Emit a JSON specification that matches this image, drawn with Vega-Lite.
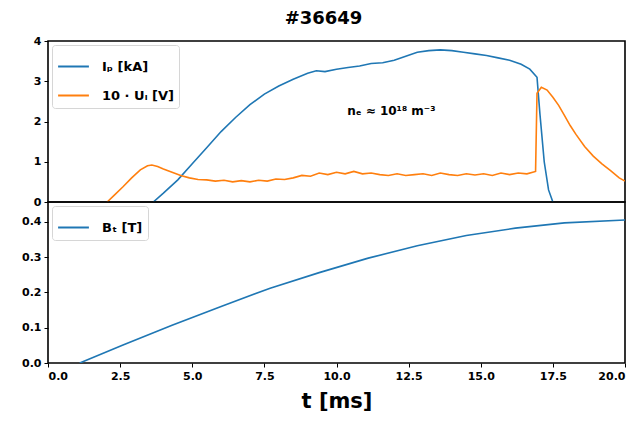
{
  "$schema": "https://vega.github.io/schema/vega-lite/v6.json",
  "padding": {"left": 20, "top": 10, "right": 14, "bottom": 4},
  "background": "white",
  "config": {
    "font": "DejaVu Sans",
    "view": {"stroke": "black", "strokeWidth": 1.6},
    "axis": {
      "grid": false,
      "domain": false,
      "tickColor": "black",
      "tickSize": 4,
      "tickWidth": 1,
      "labelColor": "black",
      "labelFont": "DejaVu Sans",
      "labelFontWeight": "bold",
      "labelFontSize": 11,
      "labelPadding": 3,
      "labelOverlap": false
    },
    "legend": {
      "orient": "top-left",
      "offset": 4,
      "title": null,
      "symbolType": "stroke",
      "symbolSize": 950,
      "symbolStrokeWidth": 2,
      "labelFont": "DejaVu Sans",
      "labelFontSize": 13,
      "labelFontWeight": "bold",
      "labelColor": "black",
      "labelOffset": 12,
      "rowPadding": 5,
      "padding": 5,
      "strokeColor": "#d6d6d6",
      "fillColor": "white",
      "cornerRadius": 3
    }
  },
  "title": {
    "text": "#36649",
    "anchor": "middle",
    "fontSize": 18,
    "fontWeight": "bold",
    "font": "DejaVu Sans",
    "color": "black",
    "offset": 6
  },
  "spacing": 0,
  "bounds": "flush",
  "datasets": {
    "discharge": [
      {"t": 3.65, "v": 0, "s": "Iₚ [kA]"},
      {"t": 4.0, "v": 0.22, "s": "Iₚ [kA]"},
      {"t": 4.5, "v": 0.55, "s": "Iₚ [kA]"},
      {"t": 5.0, "v": 0.95, "s": "Iₚ [kA]"},
      {"t": 5.5, "v": 1.35, "s": "Iₚ [kA]"},
      {"t": 6.0, "v": 1.75, "s": "Iₚ [kA]"},
      {"t": 6.5, "v": 2.1, "s": "Iₚ [kA]"},
      {"t": 7.0, "v": 2.42, "s": "Iₚ [kA]"},
      {"t": 7.5, "v": 2.68, "s": "Iₚ [kA]"},
      {"t": 8.0, "v": 2.88, "s": "Iₚ [kA]"},
      {"t": 8.5, "v": 3.05, "s": "Iₚ [kA]"},
      {"t": 9.0, "v": 3.2, "s": "Iₚ [kA]"},
      {"t": 9.3, "v": 3.26, "s": "Iₚ [kA]"},
      {"t": 9.6, "v": 3.24, "s": "Iₚ [kA]"},
      {"t": 10.0, "v": 3.3, "s": "Iₚ [kA]"},
      {"t": 10.4, "v": 3.34, "s": "Iₚ [kA]"},
      {"t": 10.8, "v": 3.38, "s": "Iₚ [kA]"},
      {"t": 11.2, "v": 3.44, "s": "Iₚ [kA]"},
      {"t": 11.6, "v": 3.46, "s": "Iₚ [kA]"},
      {"t": 12.0, "v": 3.52, "s": "Iₚ [kA]"},
      {"t": 12.4, "v": 3.62, "s": "Iₚ [kA]"},
      {"t": 12.8, "v": 3.72, "s": "Iₚ [kA]"},
      {"t": 13.2, "v": 3.76, "s": "Iₚ [kA]"},
      {"t": 13.6, "v": 3.78, "s": "Iₚ [kA]"},
      {"t": 14.0, "v": 3.76, "s": "Iₚ [kA]"},
      {"t": 14.4, "v": 3.72, "s": "Iₚ [kA]"},
      {"t": 14.8, "v": 3.68, "s": "Iₚ [kA]"},
      {"t": 15.2, "v": 3.64, "s": "Iₚ [kA]"},
      {"t": 15.6, "v": 3.58, "s": "Iₚ [kA]"},
      {"t": 16.0, "v": 3.52, "s": "Iₚ [kA]"},
      {"t": 16.4, "v": 3.42, "s": "Iₚ [kA]"},
      {"t": 16.7, "v": 3.3, "s": "Iₚ [kA]"},
      {"t": 16.95, "v": 3.1, "s": "Iₚ [kA]"},
      {"t": 17.05, "v": 2.2, "s": "Iₚ [kA]"},
      {"t": 17.2, "v": 1.0, "s": "Iₚ [kA]"},
      {"t": 17.35, "v": 0.3, "s": "Iₚ [kA]"},
      {"t": 17.5, "v": 0, "s": "Iₚ [kA]"},
      {"t": 2.05, "v": 0, "s": "10 · Uₗ [V]"},
      {"t": 2.3, "v": 0.17, "s": "10 · Uₗ [V]"},
      {"t": 2.6, "v": 0.38, "s": "10 · Uₗ [V]"},
      {"t": 2.9, "v": 0.6, "s": "10 · Uₗ [V]"},
      {"t": 3.2, "v": 0.8, "s": "10 · Uₗ [V]"},
      {"t": 3.45, "v": 0.9, "s": "10 · Uₗ [V]"},
      {"t": 3.6, "v": 0.92, "s": "10 · Uₗ [V]"},
      {"t": 3.8, "v": 0.88, "s": "10 · Uₗ [V]"},
      {"t": 4.0, "v": 0.82, "s": "10 · Uₗ [V]"},
      {"t": 4.3, "v": 0.74, "s": "10 · Uₗ [V]"},
      {"t": 4.6, "v": 0.66, "s": "10 · Uₗ [V]"},
      {"t": 4.9, "v": 0.6, "s": "10 · Uₗ [V]"},
      {"t": 5.2, "v": 0.56, "s": "10 · Uₗ [V]"},
      {"t": 5.5, "v": 0.55, "s": "10 · Uₗ [V]"},
      {"t": 5.8, "v": 0.52, "s": "10 · Uₗ [V]"},
      {"t": 6.1, "v": 0.54, "s": "10 · Uₗ [V]"},
      {"t": 6.4, "v": 0.5, "s": "10 · Uₗ [V]"},
      {"t": 6.7, "v": 0.53, "s": "10 · Uₗ [V]"},
      {"t": 7.0, "v": 0.5, "s": "10 · Uₗ [V]"},
      {"t": 7.3, "v": 0.54, "s": "10 · Uₗ [V]"},
      {"t": 7.6, "v": 0.52, "s": "10 · Uₗ [V]"},
      {"t": 7.9, "v": 0.57, "s": "10 · Uₗ [V]"},
      {"t": 8.2, "v": 0.56, "s": "10 · Uₗ [V]"},
      {"t": 8.5, "v": 0.6, "s": "10 · Uₗ [V]"},
      {"t": 8.8, "v": 0.66, "s": "10 · Uₗ [V]"},
      {"t": 9.1, "v": 0.64, "s": "10 · Uₗ [V]"},
      {"t": 9.4, "v": 0.72, "s": "10 · Uₗ [V]"},
      {"t": 9.7, "v": 0.68, "s": "10 · Uₗ [V]"},
      {"t": 10.0, "v": 0.74, "s": "10 · Uₗ [V]"},
      {"t": 10.3, "v": 0.7, "s": "10 · Uₗ [V]"},
      {"t": 10.6, "v": 0.76, "s": "10 · Uₗ [V]"},
      {"t": 10.9, "v": 0.7, "s": "10 · Uₗ [V]"},
      {"t": 11.2, "v": 0.72, "s": "10 · Uₗ [V]"},
      {"t": 11.5, "v": 0.68, "s": "10 · Uₗ [V]"},
      {"t": 11.8, "v": 0.66, "s": "10 · Uₗ [V]"},
      {"t": 12.1, "v": 0.7, "s": "10 · Uₗ [V]"},
      {"t": 12.4, "v": 0.66, "s": "10 · Uₗ [V]"},
      {"t": 12.7, "v": 0.68, "s": "10 · Uₗ [V]"},
      {"t": 13.0, "v": 0.7, "s": "10 · Uₗ [V]"},
      {"t": 13.3, "v": 0.66, "s": "10 · Uₗ [V]"},
      {"t": 13.6, "v": 0.72, "s": "10 · Uₗ [V]"},
      {"t": 13.9, "v": 0.68, "s": "10 · Uₗ [V]"},
      {"t": 14.2, "v": 0.66, "s": "10 · Uₗ [V]"},
      {"t": 14.5, "v": 0.7, "s": "10 · Uₗ [V]"},
      {"t": 14.8, "v": 0.67, "s": "10 · Uₗ [V]"},
      {"t": 15.1, "v": 0.7, "s": "10 · Uₗ [V]"},
      {"t": 15.4, "v": 0.66, "s": "10 · Uₗ [V]"},
      {"t": 15.7, "v": 0.72, "s": "10 · Uₗ [V]"},
      {"t": 16.0, "v": 0.68, "s": "10 · Uₗ [V]"},
      {"t": 16.3, "v": 0.72, "s": "10 · Uₗ [V]"},
      {"t": 16.6, "v": 0.7, "s": "10 · Uₗ [V]"},
      {"t": 16.9, "v": 0.76, "s": "10 · Uₗ [V]"},
      {"t": 16.95, "v": 2.7, "s": "10 · Uₗ [V]"},
      {"t": 17.1, "v": 2.85, "s": "10 · Uₗ [V]"},
      {"t": 17.3, "v": 2.78, "s": "10 · Uₗ [V]"},
      {"t": 17.5, "v": 2.6, "s": "10 · Uₗ [V]"},
      {"t": 17.7, "v": 2.4, "s": "10 · Uₗ [V]"},
      {"t": 17.9, "v": 2.15, "s": "10 · Uₗ [V]"},
      {"t": 18.1, "v": 1.9, "s": "10 · Uₗ [V]"},
      {"t": 18.3, "v": 1.68, "s": "10 · Uₗ [V]"},
      {"t": 18.6, "v": 1.38, "s": "10 · Uₗ [V]"},
      {"t": 18.9, "v": 1.14, "s": "10 · Uₗ [V]"},
      {"t": 19.2, "v": 0.95, "s": "10 · Uₗ [V]"},
      {"t": 19.5, "v": 0.78, "s": "10 · Uₗ [V]"},
      {"t": 19.8, "v": 0.6, "s": "10 · Uₗ [V]"},
      {"t": 20.0, "v": 0.52, "s": "10 · Uₗ [V]"}
    ],
    "note": [
      {"t": 11.9, "v": 2.25, "label": "nₑ ≈ 10¹⁸ m⁻³"}
    ],
    "field": [
      {"t": 1.1, "b": 0, "s": "Bₜ [T]"},
      {"t": 2.6, "b": 0.051, "s": "Bₜ [T]"},
      {"t": 4.3, "b": 0.107, "s": "Bₜ [T]"},
      {"t": 6.0, "b": 0.16, "s": "Bₜ [T]"},
      {"t": 7.7, "b": 0.212, "s": "Bₜ [T]"},
      {"t": 9.4, "b": 0.256, "s": "Bₜ [T]"},
      {"t": 11.1, "b": 0.297, "s": "Bₜ [T]"},
      {"t": 12.8, "b": 0.332, "s": "Bₜ [T]"},
      {"t": 14.5, "b": 0.361, "s": "Bₜ [T]"},
      {"t": 16.2, "b": 0.382, "s": "Bₜ [T]"},
      {"t": 17.9, "b": 0.397, "s": "Bₜ [T]"},
      {"t": 20.0, "b": 0.405, "s": "Bₜ [T]"}
    ]
  },
  "vconcat": [
    {
      "width": 577,
      "height": 161,
      "encoding": {
        "x": {"field": "t", "type": "quantitative", "scale": {"domain": [0, 20], "nice": false}, "axis": null},
        "y": {"field": "v", "type": "quantitative", "scale": {"domain": [0, 4], "nice": false},
              "axis": {"values": [0, 1, 2, 3, 4], "format": "d", "title": null}}
      },
      "layer": [
        {
          "data": {"name": "discharge"},
          "mark": {"type": "line", "strokeWidth": 1.6, "clip": true},
          "encoding": {
            "color": {"field": "s", "type": "nominal",
                      "scale": {"domain": ["Iₚ [kA]", "10 · Uₗ [V]"], "range": ["#1f77b4", "#ff7f0e"]}},
            "order": {"field": "t", "type": "quantitative"}
          }
        },
        {
          "data": {"name": "note"},
          "mark": {"type": "text", "fontWeight": "bold", "fontSize": 12, "color": "black", "font": "DejaVu Sans"},
          "encoding": {
            "text": {"field": "label"}
          }
        }
      ]
    },
    {
      "width": 577,
      "height": 161,
      "data": {"name": "field"},
      "mark": {"type": "line", "strokeWidth": 1.6, "clip": true},
      "encoding": {
        "x": {"field": "t", "type": "quantitative", "scale": {"domain": [0, 20], "nice": false},
              "axis": {"values": [0, 2.5, 5, 7.5, 10, 12.5, 15, 17.5, 20], "format": ".1f",
                       "title": "t [ms]", "titleFontSize": 21, "titleFontWeight": "bold",
                       "titleColor": "black", "titleFont": "DejaVu Sans", "titlePadding": 9}},
        "y": {"field": "b", "type": "quantitative", "scale": {"domain": [0, 0.456], "nice": false},
              "axis": {"values": [0, 0.1, 0.2, 0.3, 0.4], "format": ".1f", "title": null}},
        "color": {"field": "s", "type": "nominal",
                  "scale": {"domain": ["Bₜ [T]"], "range": ["#1f77b4"]}}
      }
    }
  ],
  "resolve": {"scale": {"color": "independent", "x": "shared"}, "legend": {"color": "independent"}}
}
